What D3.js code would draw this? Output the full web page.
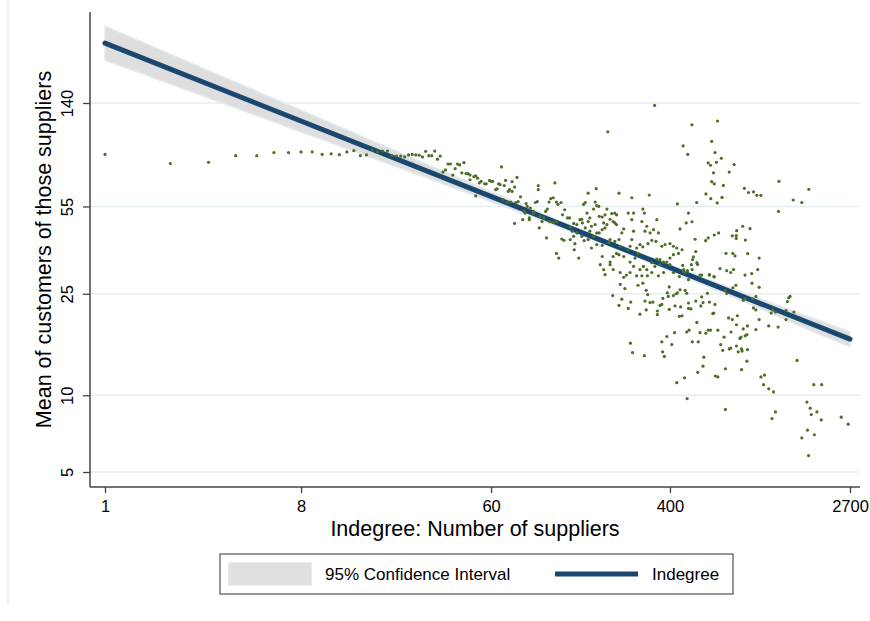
<!DOCTYPE html>
<html lang="en">
	<head>
		<meta charset="utf-8">
		<title>Indegree vs mean customers of suppliers</title>
		<script type="text/javascript" src="https://cdn.jsdelivr.net/npm/d3@7"></script>
		<style>
			body { margin: 0; background: #fff; }
			svg { display: block; font-family: "Liberation Sans", Arial, sans-serif; }
		</style>
	</head>
	<body>
		<script type="text/javascript">

			//
			// Data
			//

			var xTicks = [1, 8, 60, 400, 2700];
			var yTicks = [5, 10, 25, 55, 140];

			var xTitle = "Indegree: Number of suppliers";
			var yTitle = "Mean of customers of those suppliers";
			var legendLabels = ["95% Confidence Interval", "Indegree"];

			// fitted line (end points)
			var fitX = [1, 2700];
			var fitY = [240.4, 16.6];

			var ciX    = [1, 2, 4, 8, 15, 30, 60, 120, 250, 500, 1000, 2000, 2700];
			var ciLow  = [206.1, 166.1, 133.8, 107.8, 88.7, 71.4, 57.4, 46.1, 36.2, 28.4, 22.2, 17.2, 15.5];
			var ciHigh = [280.4, 217.6, 168.9, 131.1, 104.3, 81.0, 62.9, 49.0, 37.9, 30.2, 24.2, 19.5, 17.7];

			// scatter: [indegree, mean customers of those suppliers]
			var points = [
				[1,88],[2,81],[3,82],[4,87],[5,87],[6,89.5],[7,89.5],[8,90],[9,90],[10,88],[11,88.5],[12,87.8],
				[13,90],[14,91],[15,87],[16,87.6],[17,91.6],[18,90],[19,90.7],[20,90.7],[21,87],[22,86.7],[23,86.7],
				[24,86],[25,87.6],[26,88],[27,87.6],[28,87.4],[29,86],[30,90.5],[31,87],[32,87],[33,90.7],[34,84.3],[35,86.7],
				[38,80.7],[39,80.7],[42,80.7],[43,80],[45,81.7],[37,76.5],[36,75],[40,73],[41,77.4],[44,74.5],[46,74],
				[47,74],[48,73],[50,72],[51,72.5],[52,71],[48,70],[53,68],[54,69],[56,67.5],[57,67.5],[59,69.6],[60,69],
				[61,69],[63,64],[64,64.5],[65,67.5],[66,67],[67,78.6],[69,66.4],[70,69.6],[72,63],[73,64],[75,68.8],
				[77,65.5],[75,63],[79,71.5],[82,60],[80,57.5],[51,60.5],[68,58.5],[71,57],[74,57.2],[78,57],[87,56.5],
				[88,55],[91,54.2],[94,52.6],[96,57],[98,57.5],[99,64],[99,66.4],[118,68],[85,52.6],[86,51.8],[84,48.8],
				[90,49.6],[90,48.8],[94,51.6],[101,50.3],[105,49.6],[107,52.6],[109,53.7],[111,57.2],[113,59],[116,59.5],
				[120,57.2],[122,56],[126,57],[131,53.4],[128,51],[135,49.6],[138,49.6],[120,48],[116,47.6],[112,48],
				[103,48],[100,45.3],[77,47.2],[108,41.4],[127,41],[130,40.5],[120,36],[123,34.5],
				[183,64.6],[168,62],[233,62],[267,59.5],[321,61],[163,57],[160,56],[181,57.2],[184,55.4],[178,53.7],
				[188,55],[205,53.7],[166,51.8],[157,49],[154,48.8],[158,47.4],[171,49.6],[168,48],[189,50.3],[195,50],
				[201,51],[216,51.6],[223,51.8],[227,51],[212,49],[219,48],[223,47.4],[227,46.7],[198,47.4],[205,46.7],
				[201,45.3],[195,44.6],[181,46.7],[174,46],[171,44],[163,45.3],[149,46.7],[144,47.2],[139,45.7],[142,44],
				[149,43.3],[144,42],[139,40.8],[157,42],[161,40.4],[168,40.8],[178,42],[184,43.3],[189,43.3],[146,39.3],
				[145,37.2],[152,34.5],[174,37.8],[184,39],[195,38.7],[209,39.7],[212,40.8],[223,40.1],[233,40.8],[240,43.3],
				[245,44.9],[236,38.4],[227,36],[219,35],[233,35.6],[245,35],[257,37.2],[262,38.4],[267,40.8],[272,44],
				[267,48.8],[272,51.8],[300,53.7],[305,51.8],[297,48],[313,46],[307,44],[324,43.3],[336,44.6],[348,48.8],
				[354,43.3],[345,40.1],[330,40.5],[317,39.3],[300,38.2],[291,39],[281,37.8],[285,36],[276,34.5],[262,33.3],
				[272,32],[291,31.1],[302,32],[313,31.1],[330,33.1],[341,32],[348,34.2],[360,34],[367,38.4],[380,39],
				[400,39.3],[415,38.4],[430,37.8],[438,36],[455,37.2],[415,35.6],[400,34.5],[387,33.3],[374,33.3],[360,32.5],
				[400,32.5],[415,30.3],[374,30.3],[354,29.4],[330,30.3],[315,29.4],[297,29.4],[281,29.4],[262,30.3],[252,29.6],
				[245,29],[236,30.3],[219,31.1],[212,32.5],[198,31.1],[201,29.7],[191,32.5],[195,35],[212,33.3],[257,51.8],
				[487,51.8],[433,56.3],[445,44.9],[475,47.4],[463,31.1],[470,30.3],[442,29.2],[487,28.4],
				[635,74.5],[750,75],[623,68.8],[640,67.5],[705,66.5],[586,61.6],[617,59],[695,59.7],[660,56.8],[531,57],
				[881,64.8],[920,62.4],[970,62.8],[1005,60.8],[1050,60.8],[1270,69],[505,47.9],[865,46],[812,44.2],[935,45],
				[775,42.2],[808,42.3],[808,41.2],[890,40.6],[670,43.3],[640,42.5],[600,41.4],[584,40.4],[522,40.9],[526,36.6],
				[513,34.9],[509,34],[532,33.1],[536,32.6],[502,32.5],[458,32.3],[725,36],[779,36],[798,35.2],[913,35.9],
				[1030,34.5],[1265,52.6],[680,31.4],[730,30.8],[762,30.3],[785,31.1],[887,29.6],[952,30],[1015,31.1],[607,29.6],
				[640,29.1],[560,29.6],[506,31.1],[482,30.8],[462,30.6],
				[663,119],[623,99],[645,89.5],[690,85],[655,82],[600,81.5],[615,79.8],[790,80.3],[1745,64.2],[1478,58.3],
				[1620,57],[340,137],[207,108],[505,115],[460,95],[483,88],
				[550,29.6],[608,29.7],[637,29.2],[236,27.2],[248,26.2],[218,24.6],[240,23.8],[233,22.5],[264,23.2],[257,21.9],
				[285,27],[300,27.5],[311,25.8],[316,24.8],[307,23.4],[324,23.1],[334,23.2],[311,21.6],[291,20.8],[350,21.4],
				[350,20.7],[360,22.5],[371,24],[367,22.7],[393,24.4],[389,25.2],[397,26.6],[415,24.6],[427,25],[433,25.2],
				[445,25.9],[470,25.8],[478,25.1],[422,22.4],[448,22.2],[397,21.7],[487,23],[487,21.9],[500,21.8],[442,20.4],
				[455,20.5],[526,23.4],[560,24.3],[568,23.1],[555,22.4],[595,25.1],[608,23.2],[645,22.7],[630,20.9],[637,21],
				[532,19.3],[478,17.7],[490,18],[550,17.6],[585,17.5],[600,18],[615,18],[665,18],[710,16.9],[750,15.2],
				[745,20.1],[730,25.1],[720,25.8],[420,17.6],[387,17],[367,16.2],[408,15.8],[263,16],[269,14.7],[305,14.3],
				[370,14.8],[377,14.2],[507,16.2],[540,16.2],[573,14.1],[568,13],[537,12.3],[648,11.9],[665,11.8],[720,12.7],
				[700,15],[685,15.8],[467,11.7],[430,11.2],[480,9.7],
				[805,27],[780,26.4],[955,27.5],[1030,26.5],[995,24.4],[970,22],[995,21.6],[960,23.9],[888,23.9],[870,23.6],
				[1030,19.8],[995,18.1],[910,18.7],[870,18.2],[905,17.3],[850,16.9],[888,17.1],[840,16.7],[810,18.9],[818,20.5],
				[775,19.8],[764,17.7],[762,15.3],[810,15.6],[855,15.2],[910,15.1],[825,14.8],[860,14.9],[905,13.6],[855,12.6],
				[1140,18.7],[1260,18.5],[1170,21],[1225,21.2],[1190,21.6],[1370,21.5],[1490,21.2],[1410,24.1],[1430,24.4],[1390,23.3],
				[1370,19.8],[1540,13.7],[1050,11.8],[1090,12],[1080,11],[1140,10.6],[1200,10.3],[1225,8.6],[1180,8.1],[1840,11],
				[2000,11],[1710,9.4],[1770,8.9],[1790,8.4],[1900,8.6],[1990,8],[1720,7.3],[1850,7],[1620,6.8],[1740,5.8],
				[2460,8.2],[2650,7.7],[720,8.8]
			];


			//
			// Setup
			//

			var width = 870, height = 621;
			var plot = { left: 90, right: 860, top: 12, bottom: 487 };

			var navy = "#1a476f";
			var green = "#4d6e28";
			var tickFont = "16.5px";

			var svg = d3.select("body")
				.append("svg")
				.attr("width", width)
				.attr("height", height);

			var x = d3.scaleLog().domain([1, 2700]).range([105, 850]);
			var y = d3.scaleLog().domain([5, 140]).range([472, 103]);

			// faint outer edge on the left
			svg.append("line")
				.attr("x1", 8).attr("x2", 8)
				.attr("y1", 0).attr("y2", 605)
				.attr("stroke", "#e8eff1")
				.attr("stroke-width", 1.5);

			// gridlines
			svg.append("g")
				.selectAll("line")
				.data(yTicks)
				.enter()
				.append("line")
				.attr("x1", plot.left)
				.attr("x2", plot.right)
				.attr("y1", function(d) { return y(d); })
				.attr("y2", function(d) { return y(d); })
				.attr("stroke", "#e6eef0")
				.attr("stroke-width", 1.5);


			//
			// CI band + fit line
			//

			var ci = ciX.map(function(v, i) {
				return { x: v, lo: ciLow[i], hi: ciHigh[i] };
			});

			var area = d3.area()
				.x(function(d) { return x(d.x); })
				.y0(function(d) { return y(d.lo); })
				.y1(function(d) { return y(d.hi); })
				.curve(d3.curveMonotoneX);

			svg.append("path")
				.datum(ci)
				.attr("d", area)
				.attr("fill", "#dedede")
				.attr("stroke", "#e2ebef")
				.attr("stroke-width", 1.5);

			var fit = fitX.map(function(v, i) { return [v, fitY[i]]; });

			svg.append("path")
				.datum(fit)
				.attr("d", d3.line()
					.x(function(d) { return x(d[0]); })
					.y(function(d) { return y(d[1]); }))
				.attr("fill", "none")
				.attr("stroke", navy)
				.attr("stroke-width", 5)
				.attr("stroke-linecap", "round");


			//
			// Scatter
			//

			svg.append("g")
				.selectAll("circle")
				.data(points)
				.enter()
				.append("circle")
				.attr("cx", function(d) { return x(d[0]); })
				.attr("cy", function(d) { return y(d[1]); })
				.attr("r", 1.6)
				.attr("fill", green);


			//
			// Axes
			//

			var xAxis = svg.append("g")
				.attr("transform", "translate(0," + plot.bottom + ")")
				.call(d3.axisBottom(x)
					.tickValues(xTicks)
					.tickFormat(d3.format("d"))
					.tickSize(6)
					.tickSizeOuter(0));
			xAxis.select(".domain").remove();
			xAxis.selectAll("line").attr("stroke", "#444").attr("stroke-width", 1.3);
			xAxis.selectAll("text")
				.attr("y", 13)
				.attr("fill", "#000")
				.style("font-size", tickFont)
				.style("font-family", "'Liberation Sans', Arial, sans-serif");

			var yAxis = svg.append("g")
				.attr("transform", "translate(" + plot.left + ",0)")
				.call(d3.axisLeft(y)
					.tickValues(yTicks)
					.tickFormat(d3.format("d"))
					.tickSize(7)
					.tickSizeOuter(0));
			yAxis.select(".domain").remove();
			yAxis.selectAll("line").attr("stroke", "#444").attr("stroke-width", 1.3);
			yAxis.selectAll("text")
				.attr("x", 0)
				.attr("dy", 0)
				.attr("text-anchor", "middle")
				.attr("transform", "translate(-17,0) rotate(-90)")
				.attr("fill", "#000")
				.style("font-size", tickFont)
				.style("font-family", "'Liberation Sans', Arial, sans-serif");

			// axis lines
			svg.append("line")
				.attr("x1", plot.left).attr("x2", plot.left)
				.attr("y1", plot.top).attr("y2", plot.bottom)
				.attr("stroke", "#444").attr("stroke-width", 1.5);
			svg.append("line")
				.attr("x1", plot.left).attr("x2", plot.right)
				.attr("y1", plot.bottom).attr("y2", plot.bottom)
				.attr("stroke", "#444").attr("stroke-width", 1.5);

			// titles
			svg.append("text")
				.attr("x", (plot.left + plot.right) / 2)
				.attr("y", 536)
				.attr("text-anchor", "middle")
				.style("font-size", "21.5px")
				.text(xTitle);

			svg.append("text")
				.attr("transform", "translate(51," + ((plot.top + plot.bottom) / 2) + ") rotate(-90)")
				.attr("text-anchor", "middle")
				.style("font-size", "21.5px")
				.text(yTitle);


			//
			// Legend
			//

			var legend = svg.append("g");

			legend.append("rect")
				.attr("x", 220).attr("y", 554)
				.attr("width", 513).attr("height", 40)
				.attr("fill", "#fff")
				.attr("stroke", "#333")
				.attr("stroke-width", 1);

			legend.append("rect")
				.attr("x", 229).attr("y", 563)
				.attr("width", 82).attr("height", 22)
				.attr("fill", "#e0e0e0")
				.attr("stroke", "#dbe6ea")
				.attr("stroke-width", 1.5);

			legend.append("text")
				.attr("x", 325).attr("y", 580)
				.style("font-size", "17px")
				.text(legendLabels[0]);

			legend.append("line")
				.attr("x1", 555).attr("x2", 638)
				.attr("y1", 574).attr("y2", 574)
				.attr("stroke", navy)
				.attr("stroke-width", 5);

			legend.append("text")
				.attr("x", 652).attr("y", 580)
				.style("font-size", "17px")
				.text(legendLabels[1]);

		</script>
	</body>
</html>
